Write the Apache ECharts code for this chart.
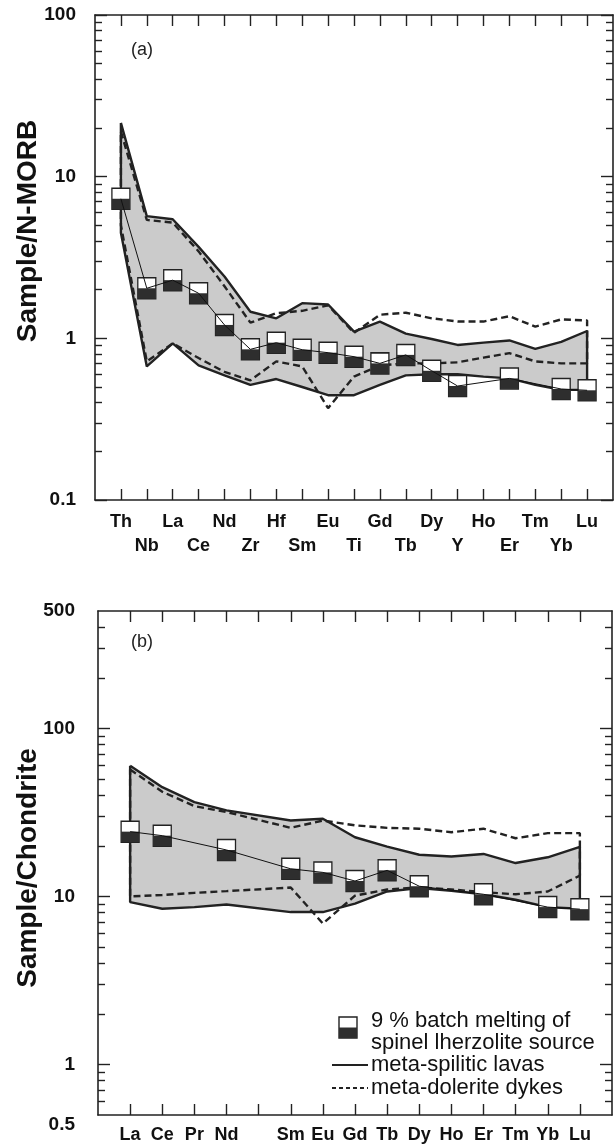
<!DOCTYPE html>
<html>
<head>
<meta charset="utf-8">
<title>N-MORB and chondrite normalised patterns</title>
<script src="https://cdn.jsdelivr.net/npm/echarts@6/dist/echarts.min.js"></script>
<style>
html, body { margin:0; padding:0; background:#fff; }
#main { width:614px; height:1148px; }
</style>
</head>
<body>
<div id="main"></div>
<script>
// ---- panel (a): sample / N-MORB ----
var traceElements = ['Th','Nb','La','Ce','Nd','Zr','Hf','Sm','Eu','Ti','Gd','Tb','Dy','Y','Ho','Er','Tm','Yb','Lu'];
var lavaTopA     = [21.5, 5.7, 5.45, 3.68, 2.41, 1.46, 1.33, 1.65, 1.62, 1.10, 1.27, 1.07, 0.99, 0.91, 0.94, 0.97, 0.86, 0.95, 1.11];
var lavaBottomA  = [4.5, 0.67, 0.93, 0.68, 0.59, 0.515, 0.56, 0.50, 0.445, 0.445, 0.515, 0.59, 0.60, 0.60, 0.58, 0.565, 0.515, 0.48, 0.48];
var dykeTopA     = [19, 5.4, 5.2, 3.45, 2.1, 1.25, 1.43, 1.48, 1.60, 1.08, 1.40, 1.44, 1.33, 1.27, 1.27, 1.37, 1.18, 1.31, 1.29];
var dykeBottomA  = [5.0, 0.72, 0.93, 0.755, 0.62, 0.55, 0.72, 0.67, 0.37, 0.58, 0.68, 0.70, 0.70, 0.71, 0.76, 0.81, 0.72, 0.70, 0.70];
var meltA        = [7.3, 2.04, 2.29, 1.90, 1.21, 0.855, 0.94, 0.85, 0.815, 0.77, 0.70, 0.79, 0.63, 0.507, null, 0.565, null, 0.486, 0.477];
var majorA = [0.1, 1, 10, 100];
var minorA = [0.2,0.3,0.4,0.5,0.6,0.7,0.8,0.9, 2,3,4,5,6,7,8,9, 20,30,40,50,60,70,80,90];
var labelsA = [0.1, 1, 10, 100];

// ---- panel (b): sample / chondrite (Pm left blank) ----
var reeElements = ['La','Ce','Pr','Nd','','Sm','Eu','Gd','Tb','Dy','Ho','Er','Tm','Yb','Lu'];
var lavaTopB     = [60, 44.7, 36.4, 32.5, null, 28.3, 29.0, 22.5, 19.8, 17.7, 17.3, 17.9, 15.8, 17.1, 19.7];
var lavaBottomB  = [9.25, 8.45, 8.64, 8.96, null, 8.07, 8.07, 9.05, 10.7, 11.2, 10.8, 10.3, 9.55, 8.64, 8.45];
var dykeTopB     = [57, 42, 34.5, 31.8, null, 25.6, 28.3, 26.5, 25.6, 25.3, 24.1, 25.3, 22.2, 23.8, 23.8];
var dykeBottomB  = [10.0, 10.2, 10.5, 10.75, null, 11.3, 6.9, 10.1, 11.0, 11.3, 11.0, 10.6, 10.3, 10.7, 13.3];
var meltB        = [24.3, 23.0, null, 18.9, null, 14.6, 13.9, 12.35, 14.3, 11.5, null, 10.3, null, 8.64, 8.4];
var majorB = [1, 10, 100];
var minorB = [0.6,0.7,0.8,0.9, 2,3,4,5,6,7,8,9, 20,30,40,50,60,70,80,90, 200,300,400];
var labelsB = [0.5, 1, 10, 100, 500];

var FONT = '"Liberation Sans", Arial, Helvetica, sans-serif';
var INK = '#222';
var FILL = '#cbcbcb';

function seq(n) { var a = []; for (var i = 1; i <= n; i++) a.push(i); return a; }

// [[position, value]] skipping blanks, positions start at 1
function pts(vals) {
  var out = [];
  for (var i = 0; i < vals.length; i++) {
    if (vals[i] != null) out.push([i + 1, vals[i]]);
  }
  return out;
}
// closed outline: top left->right, bottom right->left, back to start
function ring(top, bottom) {
  var a = pts(top), b = pts(bottom).reverse();
  return a.concat(b, [a[0]]);
}

function xPair(gi, names, twoRows) {
  var n = names.length;
  var ticks = { inside: true, length: 11, customValues: seq(n), lineStyle: { color: INK, width: 1.4 } };
  var line = { onZero: false, lineStyle: { color: INK, width: 1.6 } };
  return [{
    gridIndex: gi, type: 'value', min: 0, max: n + 1, position: 'bottom',
    axisLine: line, axisTick: ticks, splitLine: { show: false },
    axisLabel: {
      customValues: seq(n), margin: 10, color: '#111', fontFamily: FONT, fontWeight: 'bold',
      fontSize: 18, lineHeight: twoRows ? 24 : 20,
      formatter: function (v) {
        var name = names[Math.round(v) - 1];
        if (!name) return '';
        return (twoRows && (Math.round(v) - 1) % 2 === 1) ? '\n' + name : name;
      }
    }
  }, {
    gridIndex: gi, type: 'value', min: 0, max: n + 1, position: 'top',
    axisLine: line, axisTick: ticks, splitLine: { show: false }, axisLabel: { show: false }
  }];
}

function yQuad(gi, min, max, major, minor, labels, margin) {
  function ax(pos, ticks, len, withLine, withLabel) {
    return {
      gridIndex: gi, type: 'log', logBase: 10, min: min, max: max, position: pos,
      splitLine: { show: false },
      axisLine: { show: withLine, onZero: false, lineStyle: { color: INK, width: 1.6 } },
      axisTick: { inside: true, length: len, customValues: ticks, lineStyle: { color: INK, width: 1.4 } },
      axisLabel: withLabel ? {
        customValues: labels, margin: margin, color: '#111', fontFamily: FONT,
        fontWeight: 'bold', fontSize: 19, verticalAlignMinLabel: gi === 1 ? 'top' : null,
        formatter: function (v) { return String(+(+v).toPrecision(3)); }
      } : { show: false }
    };
  }
  return [
    ax('left', major, 12, true, true),
    ax('left', minor, 7, false, false),
    ax('right', major, 12, true, false),
    ax('right', minor, 7, false, false)
  ];
}

function panelSeries(gi, lavaTop, lavaBottom, dykeTop, dykeBottom, melt) {
  var xi = gi * 2, yi = gi * 4;
  var poly = pts(lavaTop).concat(pts(lavaBottom).reverse());
  return [{
    type: 'custom', xAxisIndex: xi, yAxisIndex: yi, data: [[1, 1]], z: 1, silent: true,
    renderItem: function (params, api) {
      return {
        type: 'polygon',
        shape: { points: poly.map(function (p) { return api.coord(p); }) },
        style: { fill: FILL }
      };
    }
  }, {
    type: 'line', xAxisIndex: xi, yAxisIndex: yi, data: ring(lavaTop, lavaBottom), z: 2,
    symbol: 'none', silent: true, lineStyle: { color: INK, width: 2.4 }
  }, {
    type: 'line', xAxisIndex: xi, yAxisIndex: yi, data: ring(dykeTop, dykeBottom), z: 2,
    symbol: 'none', silent: true, lineStyle: { color: INK, width: 2.4, type: [7, 4] }
  }, {
    type: 'scatter', xAxisIndex: xi, yAxisIndex: yi, data: pts(melt), z: 3, silent: true,
    symbol: 'rect', symbolSize: [18, 21],
    itemStyle: { color: '#fff', borderColor: INK, borderWidth: 1.4, opacity: 1 }
  }, {
    type: 'scatter', xAxisIndex: xi, yAxisIndex: yi, data: pts(melt), z: 3, silent: true,
    symbol: 'rect', symbolSize: [18, 10.5], symbolOffset: [0, 5.25],
    itemStyle: { color: '#2e2e2e', opacity: 1 }
  }, {
    type: 'line', xAxisIndex: xi, yAxisIndex: yi, data: pts(melt), z: 4,
    symbol: 'none', silent: true, lineStyle: { color: '#111', width: 1 }
  }];
}

var chart = echarts.init(document.getElementById('main'));
chart.setOption({
  backgroundColor: '#fff',
  animation: false,
  grid: [
    { left: 95, top: 15, width: 518, height: 485, outerBoundsMode: 'none' },
    { left: 98, top: 611, width: 514, height: 504, outerBoundsMode: 'none' }
  ],
  xAxis: xPair(0, traceElements, true).concat(xPair(1, reeElements, false)),
  yAxis: yQuad(0, 0.1, 100, majorA, minorA, labelsA, 19).concat(yQuad(1, 0.5, 500, majorB, minorB, labelsB, 23)),
  series: panelSeries(0, lavaTopA, lavaBottomA, dykeTopA, dykeBottomA, meltA)
    .concat(panelSeries(1, lavaTopB, lavaBottomB, dykeTopB, dykeBottomB, meltB)),
  graphic: [
    { type: 'text', x: 28, y: 231, rotation: Math.PI / 2,
      style: { text: 'Sample/N-MORB', font: 'bold 28px ' + FONT, fill: '#111', align: 'center', verticalAlign: 'middle' } },
    { type: 'text', x: 28, y: 868, rotation: Math.PI / 2,
      style: { text: 'Sample/Chondrite', font: 'bold 28px ' + FONT, fill: '#111', align: 'center', verticalAlign: 'middle' } },
    { type: 'text', x: 131, y: 50, style: { text: '(a)', font: '18px ' + FONT, fill: '#222', verticalAlign: 'middle' } },
    { type: 'text', x: 131, y: 642, style: { text: '(b)', font: '18px ' + FONT, fill: '#222', verticalAlign: 'middle' } },
    // legend
    { type: 'rect', shape: { x: 339, y: 1017, width: 18, height: 21 }, style: { fill: '#fff', stroke: INK, lineWidth: 1.4 } },
    { type: 'rect', shape: { x: 339, y: 1027.5, width: 18, height: 10.5 }, style: { fill: '#2e2e2e' } },
    { type: 'text', x: 371, y: 1021, style: { text: '9 % batch melting of', font: '22px ' + FONT, fill: '#111', verticalAlign: 'middle' } },
    { type: 'text', x: 371, y: 1043, style: { text: 'spinel lherzolite source', font: '22px ' + FONT, fill: '#111', verticalAlign: 'middle' } },
    { type: 'line', shape: { x1: 332, y1: 1065, x2: 368, y2: 1065 }, style: { stroke: INK, lineWidth: 2 } },
    { type: 'text', x: 371, y: 1065, style: { text: 'meta-spilitic lavas', font: '22px ' + FONT, fill: '#111', verticalAlign: 'middle' } },
    { type: 'line', shape: { x1: 332, y1: 1088, x2: 368, y2: 1088 }, style: { stroke: INK, lineWidth: 2, lineDash: [4, 3] } },
    { type: 'text', x: 371, y: 1088, style: { text: 'meta-dolerite dykes', font: '22px ' + FONT, fill: '#111', verticalAlign: 'middle' } }
  ]
});
</script>
</body>
</html>
